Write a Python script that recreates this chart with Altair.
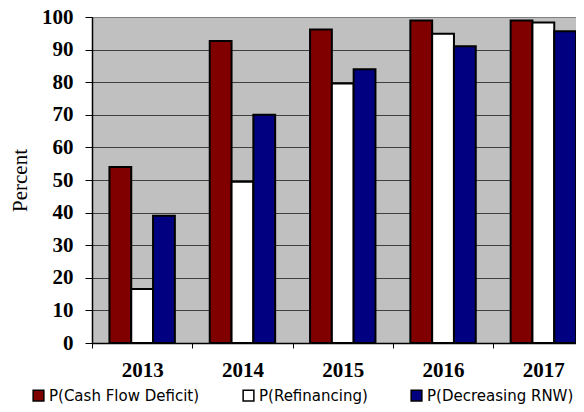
import altair as alt
import pandas as pd

years = ["2013", "2014", "2015", "2016", "2017"]
series = ["P(Cash Flow Deficit)", "P(Refinancing)", "P(Decreasing RNW)"]
cash_flow_deficit = [54.0, 92.6, 96.2, 98.9, 98.9]
refinancing = [16.6, 49.5, 79.6, 94.9, 98.3]
decreasing_rnw = [39.0, 70.0, 84.0, 91.0, 95.6]
colors = ["#800000", "#FFFFFF", "#000080"]
y_ticks = [0, 10, 20, 30, 40, 50, 60, 70, 80, 90, 100]

rows = []
for s, vals in zip(series, [cash_flow_deficit, refinancing, decreasing_rnw]):
    for yr, v in zip(years, vals):
        rows.append({"Year": yr, "Series": s, "Percent": v})
df = pd.DataFrame(rows)

serif = "Liberation Serif"

chart = alt.Chart(df).mark_bar(stroke="black", strokeWidth=2).encode(
    x=alt.X("Year:N", sort=years,
            scale=alt.Scale(paddingInner=0, paddingOuter=0, range=[0, 501.5]),
            axis=alt.Axis(title=None, tickBand="extent", labelAngle=0,
                          labelFont=serif, labelFontSize=21, labelFontWeight="bold",
                          labelColor="black", labelBaseline="alphabetic", labelPadding=28,
                          tickSize=5, tickColor="black", domainColor="black",
                          domainWidth=1.5, grid=False)),
    xOffset=alt.XOffset("Series:N", sort=series,
                        scale=alt.Scale(paddingOuter=0.8, paddingInner=0)),
    y=alt.Y("Percent:Q",
            scale=alt.Scale(domain=[0, 100], nice=False),
            axis=alt.Axis(title="Percent", values=y_ticks, titleFont=serif,
                          titleFontSize=21, titleFontWeight="normal", titleColor="black",
                          titleAngle=270, titleBaseline="alphabetic", titleX=-66, titleY=163,
                          titleAlign="center",
                          labelFont=serif, labelFontSize=21, labelFontWeight="bold",
                          labelColor="black", labelPadding=12, tickSize=7,
                          tickColor="black", domainColor="black", domainWidth=1.5,
                          grid=True,
                          gridColor=alt.condition("datum.value == 100", alt.value("#808080"), alt.value("#404040")),
                          gridWidth=1.2)),
    color=alt.Color("Series:N", sort=series,
                    scale=alt.Scale(domain=series, range=colors),
                    legend=alt.Legend(title=None, orient="none", direction="horizontal",
                                      legendX=-61, legendY=371,
                                      symbolType="square", symbolSize=115,
                                      symbolStrokeColor="black", symbolStrokeWidth=1.5,
                                      labelFont="DejaVu Sans", labelFontSize=15,
                                      labelColor="black", labelOffset=3,
                                      columnPadding=40, labelLimit=300)),
).properties(
    width=484, height=326,
    autosize=alt.AutoSizeParams(type="none"),
    padding={"left": 84, "top": 9, "right": 0, "bottom": 61},
).configure_view(
    fill="#C0C0C0", stroke=None
)

chart.save("out.html", embed_options={"renderer": "svg", "actions": False})
